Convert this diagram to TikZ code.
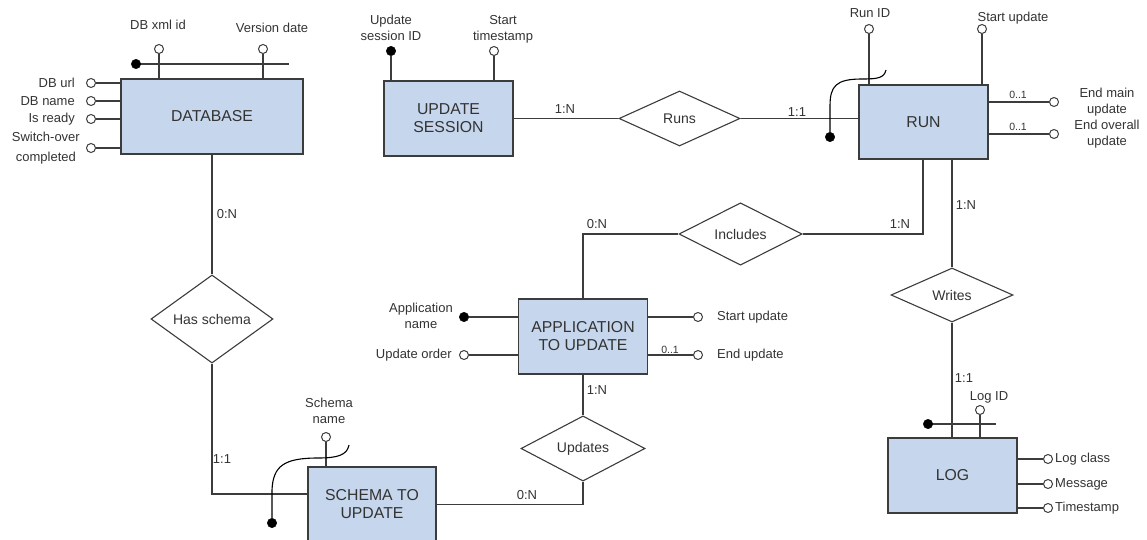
\documentclass[tikz,border=0pt]{standalone}
\usepackage{fontspec}
\setmainfont{Liberation Sans}
\usetikzlibrary{shapes.geometric}
\definecolor{entfill}{RGB}{198,214,236}
\definecolor{ink}{RGB}{51,51,51}
\definecolor{edge}{RGB}{60,60,60}
\tikzset{
  entity/.style={draw=edge, line width=1.3pt, fill=entfill, minimum width=129pt,
    minimum height=75pt, inner sep=0pt, align=center, text=ink,
    font=\fontsize{15.8}{18}\selectfont},
  rel/.style={draw=edge, line width=1.1pt, diamond, fill=white, minimum width=122pt,
    minimum height=54pt, inner sep=0pt, text=ink, font=\fontsize{14}{15}\selectfont},
  conn/.style={draw=edge, line width=1.2pt},
  lbl/.style={inner sep=0pt, text=ink, align=center, font=\fontsize{13}{16}\selectfont},
  card/.style={inner sep=0pt, text=ink, font=\fontsize{13}{14}\selectfont},
  tiny/.style={inner sep=0pt, text=ink, font=\fontsize{10.5}{11}\selectfont},
  attr/.style={circle, draw=edge, line width=1pt, fill=white, minimum size=9pt, inner sep=0pt},
  keyattr/.style={circle, draw=black, fill=black, minimum size=9.5pt, inner sep=0pt},
}
\begin{document}
\begin{tikzpicture}[x=1pt,y=-1pt]
\useasboundingbox (0,0) rectangle (1147,540);
\clip (0,0) rectangle (1147,540);

% ---------- entities ----------
\node[entity, minimum width=182pt] (db) at (212,116.5) {DATABASE};
\node[entity] (us) at (448.5,118.5) {UPDATE\\SESSION};
\node[entity, minimum height=74pt] (run) at (923.5,122) {RUN};
\node[entity] (app) at (583,336.5) {APPLICATION\\TO UPDATE};
\node[entity, minimum width=128pt] (sch) at (372,504.5) {SCHEMA TO\\UPDATE};
\node[entity] (log) at (952.5,475.5) {LOG};

% ---------- relationships ----------
\node[rel] (hs) at (212,319) {Has schema};
\node[rel, minimum width=121pt, minimum height=55pt] (runs) at (679.5,118.5) {Runs};
\node[rel, minimum width=123pt] (inc) at (740.5,234) {Includes};
\node[rel] (wr) at (952,295) {Writes};
\node[rel, minimum width=124pt, minimum height=53pt] (upd) at (583,448.5) {Updates};

% ---------- connectors ----------
\draw[conn] (db.south) -- (hs.north);
\draw[conn] (hs.south) |- ([yshift=10.5pt]sch.west);
\draw[conn] (sch.east) -| (upd.south);
\draw[conn] (upd.north) -- (app.south);
\draw[conn] (app.north) |- (inc.west);
\draw[conn] (inc.east) -| ([xshift=-0.5pt]run.south);
\draw[conn] (run.south -| wr.north) -- (wr.north);
\draw[conn] (wr.south) -- (wr.south |- log.north);
\draw[conn] (us.east) -- (runs.west);
\draw[conn] (runs.east) -- (runs.east -| run.west);

% ---------- cardinalities ----------
\node[card] at (227,214) {0:N};
\node[card] at (222,459) {1:1};
\node[card] at (527,495) {0:N};
\node[card] at (597,390) {1:N};
\node[card] at (597,224) {0:N};
\node[card] at (900,224) {1:N};
\node[card] at (966,205) {1:N};
\node[card] at (964,378) {1:1};
\node[card] at (565,109) {1:N};
\node[card] at (797,112) {1:1};

% ---------- DATABASE attributes ----------
\coordinate (dbk1) at (136,64);
\coordinate (dbk2) at (289,64);
\draw[conn] (dbk1) -- (dbk2);
\node[keyattr] at (dbk1) {};
\node[attr] (dbid) at (159,49) {};
\node[attr] (dbver) at (263,49) {};
\draw[conn] (dbid) -- (dbid |- db.north);
\draw[conn] (dbver) -- (dbver |- db.north);
\node[lbl] at (158,25) {DB xml id};
\node[lbl] at (272,28) {Version date};
\foreach \yy/\nm in {83/url,101/name,119/ready,148/sw}{
  \node[attr] (db\nm) at (91,\yy) {};
  \draw[conn] (db\nm) -- (db\nm -| db.west);
}
\node[lbl, anchor=east] at (75,83) {DB url};
\node[lbl, anchor=east] at (75,101) {DB name};
\node[lbl, anchor=east] at (75,119) {Is ready};
\node[lbl, anchor=east, font=\fontsize{13}{20}\selectfont] at (80,148) {Switch-over\\completed};

% ---------- UPDATE SESSION attributes ----------
\node[keyattr] (usid) at (391,51) {};
\node[attr] (usts) at (494,51) {};
\draw[conn] (usid) -- (usid |- us.north);
\draw[conn] (usts) -- (usts |- us.north);
\node[lbl] at (391,28) {Update\\session ID};
\node[lbl] at (503,29.5) {Start\\timestamp};

% ---------- RUN attributes ----------
\node[attr] (runid) at (869,29) {};
\node[attr] (runst) at (982,29) {};
\draw[conn] (runid) -- (runid |- run.north);
\draw[conn] (runst) -- (runst |- run.north);
\node[lbl] at (870,13) {Run ID};
\node[lbl] at (1013,18) {Start update};
\coordinate (runk1) at (886,70);
\node[keyattr] (runkey) at (830,137) {};
\draw[line width=1.1pt, black] (runk1) .. controls (884,78) and (878,79) .. (862,79)
  .. controls (836,79) and (830,86) .. (830,106) -- (runkey);
\node[attr] (runem) at (1054,102) {};
\node[attr] (runeo) at (1054,134) {};
\draw[conn] (runem) -- (runem -| run.east);
\draw[conn] (runeo) -- (runeo -| run.east);
\node[tiny] at (1018,95) {0..1};
\node[tiny] at (1018,127) {0..1};
\node[lbl] at (1107,102) {End main\\update};
\node[lbl] at (1107,134) {End overall\\update};

% ---------- APPLICATION TO UPDATE attributes ----------
\node[keyattr] (appnm) at (464,317) {};
\node[attr] (appord) at (464,355) {};
\node[attr] (appst) at (698,317) {};
\node[attr] (append) at (698,355) {};
\draw[conn] (appnm) -- (appnm -| app.west);
\draw[conn] (appord) -- (appord -| app.west);
\draw[conn] (appst) -- (appst -| app.east);
\draw[conn] (append) -- (append -| app.east);
\node[lbl, anchor=east] at (453,315.5) {Application\\name};
\node[lbl, anchor=east] at (452,355) {Update order};
\node[lbl, anchor=west] at (717,317) {Start update};
\node[lbl, anchor=west] at (717,355) {End update};
\node[tiny] at (670,350) {0..1};

% ---------- SCHEMA TO UPDATE attributes ----------
\node[attr] (schnm) at (326,437) {};
\draw[conn] (schnm) -- (schnm |- sch.north);
\node[lbl] at (329,411) {Schema\\name};
\coordinate (schk1) at (349,445);
\node[keyattr] (schkey) at (272,523) {};
\draw[line width=1.1pt, black] (schk1) .. controls (347,455) and (338,458) .. (318,458)
  .. controls (284,458) and (273,466) .. (272,490) -- (schkey);

% ---------- LOG attributes ----------
\coordinate (logk1) at (928,424);
\coordinate (logk2) at (996,424);
\draw[conn] (logk1) -- (logk2);
\node[keyattr] at (logk1) {};
\node[attr] (logid) at (980,410) {};
\draw[conn] (logid) -- (logid |- log.north);
\node[lbl] at (989,397) {Log ID};
\foreach \yy/\nm/\tx in {459/cls/{Log class},484/msg/{Message},508/ts/{Timestamp}}{
  \node[attr] (log\nm) at (1048,\yy) {};
  \draw[conn] (log\nm) -- (log\nm -| log.east);
  \node[lbl, anchor=west] at (1055,\yy) {\tx};
}
\end{tikzpicture}
\end{document}
